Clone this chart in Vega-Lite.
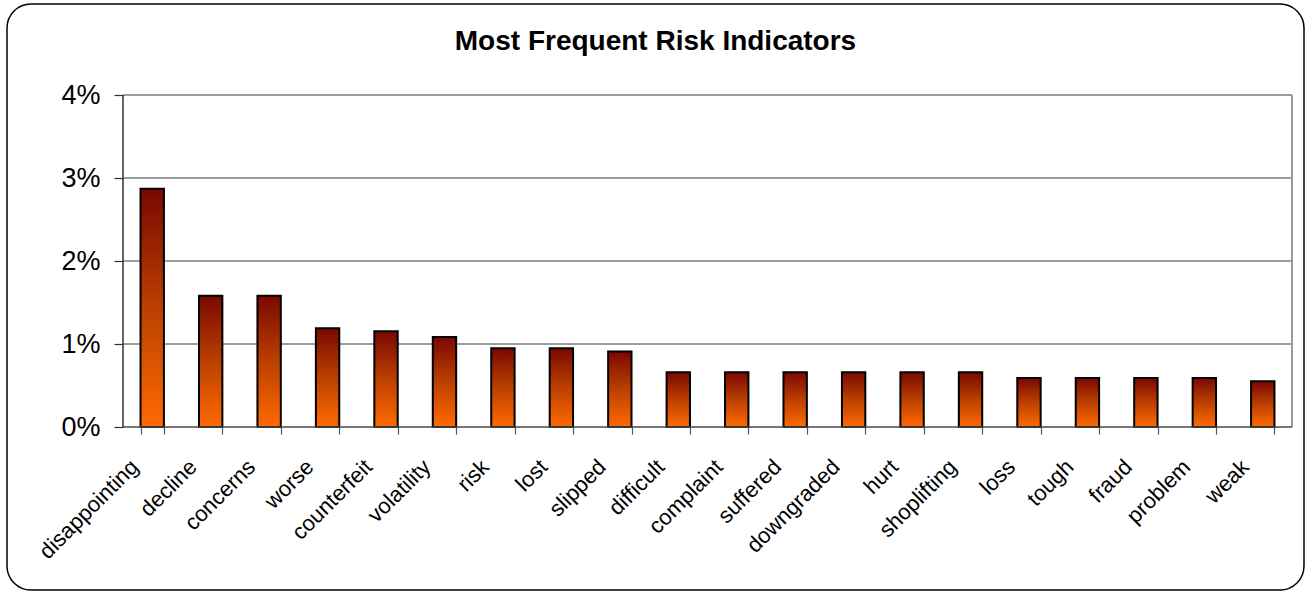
{
  "$schema": "https://vega.github.io/schema/vega-lite/v6.json",
  "width": 1297,
  "height": 586,
  "autosize": "none",
  "padding": {"left": 7, "top": 4, "right": 3, "bottom": 2},
  "background": "white",
  "title": {
    "text": "Most Frequent Risk Indicators",
    "font": "Liberation Sans",
    "fontSize": 28,
    "fontWeight": "bold",
    "color": "black",
    "anchor": "middle",
    "frame": "group",
    "offset": -52
  },
  "config": {
    "view": {"stroke": "black", "strokeWidth": 1.5, "cornerRadius": 24, "fill": "white"}
  },
  "datasets": {
    "terms": [
      {"word": "disappointing", "share": 0.0287},
      {"word": "decline", "share": 0.0158},
      {"word": "concerns", "share": 0.0158},
      {"word": "worse", "share": 0.0119},
      {"word": "counterfeit", "share": 0.01155},
      {"word": "volatility", "share": 0.01085},
      {"word": "risk", "share": 0.0095},
      {"word": "lost", "share": 0.0095},
      {"word": "slipped", "share": 0.0091},
      {"word": "difficult", "share": 0.0066},
      {"word": "complaint", "share": 0.0066},
      {"word": "suffered", "share": 0.0066},
      {"word": "downgraded", "share": 0.0066},
      {"word": "hurt", "share": 0.0066},
      {"word": "shoplifting", "share": 0.0066},
      {"word": "loss", "share": 0.0059},
      {"word": "tough", "share": 0.0059},
      {"word": "fraud", "share": 0.0059},
      {"word": "problem", "share": 0.0059},
      {"word": "weak", "share": 0.0055}
    ],
    "gridlines": [
      {"from": 0, "to": 20, "at": 0.01},
      {"from": 0, "to": 20, "at": 0.02},
      {"from": 0, "to": 20, "at": 0.03}
    ],
    "baseline": [
      {"from": 0, "to": 20, "at": 0}
    ],
    "valueAxis": [
      {"pos": 0, "lo": 0, "hi": 0.04}
    ],
    "plotTop": [
      {"from": 0, "to": 20, "at": 0.04}
    ],
    "plotRight": [
      {"pos": 20, "lo": 0, "hi": 0.04}
    ]
  },
  "layer": [
    {
      "data": {"name": "gridlines"},
      "mark": {"type": "rule", "color": "#3c3c3c", "strokeWidth": 1.2},
      "encoding": {
        "x": {"field": "from", "type": "quantitative", "axis": null,
              "scale": {"domain": [0, 20], "range": [116, 1285], "nice": false, "zero": false}},
        "x2": {"field": "to"},
        "y": {"field": "at", "type": "quantitative",
              "scale": {"domain": [0, 0.04], "range": [423, 91], "nice": false, "zero": false}}
      }
    },
    {
      "data": {"name": "plotTop"},
      "mark": {"type": "rule", "color": "#9a9a9a", "strokeWidth": 2},
      "encoding": {
        "x": {"field": "from", "type": "quantitative", "axis": null,
              "scale": {"domain": [0, 20], "range": [116, 1285], "nice": false, "zero": false}},
        "x2": {"field": "to"},
        "y": {"field": "at", "type": "quantitative",
              "scale": {"domain": [0, 0.04], "range": [423, 91], "nice": false, "zero": false}}
      }
    },
    {
      "data": {"name": "plotRight"},
      "mark": {"type": "rule", "color": "#9a9a9a", "strokeWidth": 2},
      "encoding": {
        "x": {"field": "pos", "type": "quantitative", "axis": null,
              "scale": {"domain": [0, 20], "range": [116, 1285], "nice": false, "zero": false}},
        "y": {"field": "lo", "type": "quantitative",
              "scale": {"domain": [0, 0.04], "range": [423, 91], "nice": false, "zero": false}},
        "y2": {"field": "hi"}
      }
    },
    {
      "data": {"name": "terms"},
      "mark": {
        "type": "bar",
        "stroke": "black",
        "strokeWidth": 2,
        "color": {
          "gradient": "linear",
          "x1": 0, "y1": 0, "x2": 0, "y2": 1,
          "stops": [
            {"offset": 0, "color": "#7a0800"},
            {"offset": 0.5, "color": "#bb4000"},
            {"offset": 1, "color": "#ff6a00"}
          ]
        }
      },
      "encoding": {
        "x": {
          "field": "word",
          "type": "nominal",
          "sort": null,
          "title": null,
          "scale": {"range": [116, 1285], "paddingInner": 0.6, "paddingOuter": 0.3},
          "axis": {
            "orient": "bottom",
            "offset": -163,
            "domain": false,
            "grid": false,
            "tickBand": "extent",
            "tickSize": 7,
            "tickColor": "#555555",
            "tickWidth": 1.2,
            "labelAngle": -45,
            "labelAlign": "right",
            "labelBaseline": "middle",
            "labelFont": "Liberation Sans",
            "labelFontSize": 22,
            "labelColor": "black",
            "labelPadding": 29,
            "labelOffset": -18,
            "labelOverlap": false
          }
        },
        "y": {
          "field": "share",
          "type": "quantitative",
          "title": null,
          "scale": {"domain": [0, 0.04], "range": [423, 91], "nice": false, "zero": false},
          "axis": {
            "orient": "left",
            "offset": -116,
            "values": [0, 0.01, 0.02, 0.03, 0.04],
            "format": ".0%",
            "domain": false,
            "grid": false,
            "tickSize": 9,
            "tickColor": "#333333",
            "tickWidth": 1.2,
            "labelFont": "Liberation Sans",
            "labelFontSize": 27,
            "labelColor": "black",
            "labelPadding": 14
          }
        },
        "y2": {"datum": 0}
      }
    },
    {
      "data": {"name": "baseline"},
      "mark": {"type": "rule", "color": "#4a4a4a", "strokeWidth": 1.5},
      "encoding": {
        "x": {"field": "from", "type": "quantitative", "axis": null,
              "scale": {"domain": [0, 20], "range": [116, 1285], "nice": false, "zero": false}},
        "x2": {"field": "to"},
        "y": {"field": "at", "type": "quantitative",
              "scale": {"domain": [0, 0.04], "range": [423, 91], "nice": false, "zero": false}}
      }
    },
    {
      "data": {"name": "valueAxis"},
      "mark": {"type": "rule", "color": "#333333", "strokeWidth": 1.5},
      "encoding": {
        "x": {"field": "pos", "type": "quantitative", "axis": null,
              "scale": {"domain": [0, 20], "range": [116, 1285], "nice": false, "zero": false}},
        "y": {"field": "lo", "type": "quantitative",
              "scale": {"domain": [0, 0.04], "range": [423, 91], "nice": false, "zero": false}},
        "y2": {"field": "hi"}
      }
    }
  ],
  "resolve": {"scale": {"x": "independent"}, "axis": {"x": "independent"}}
}
